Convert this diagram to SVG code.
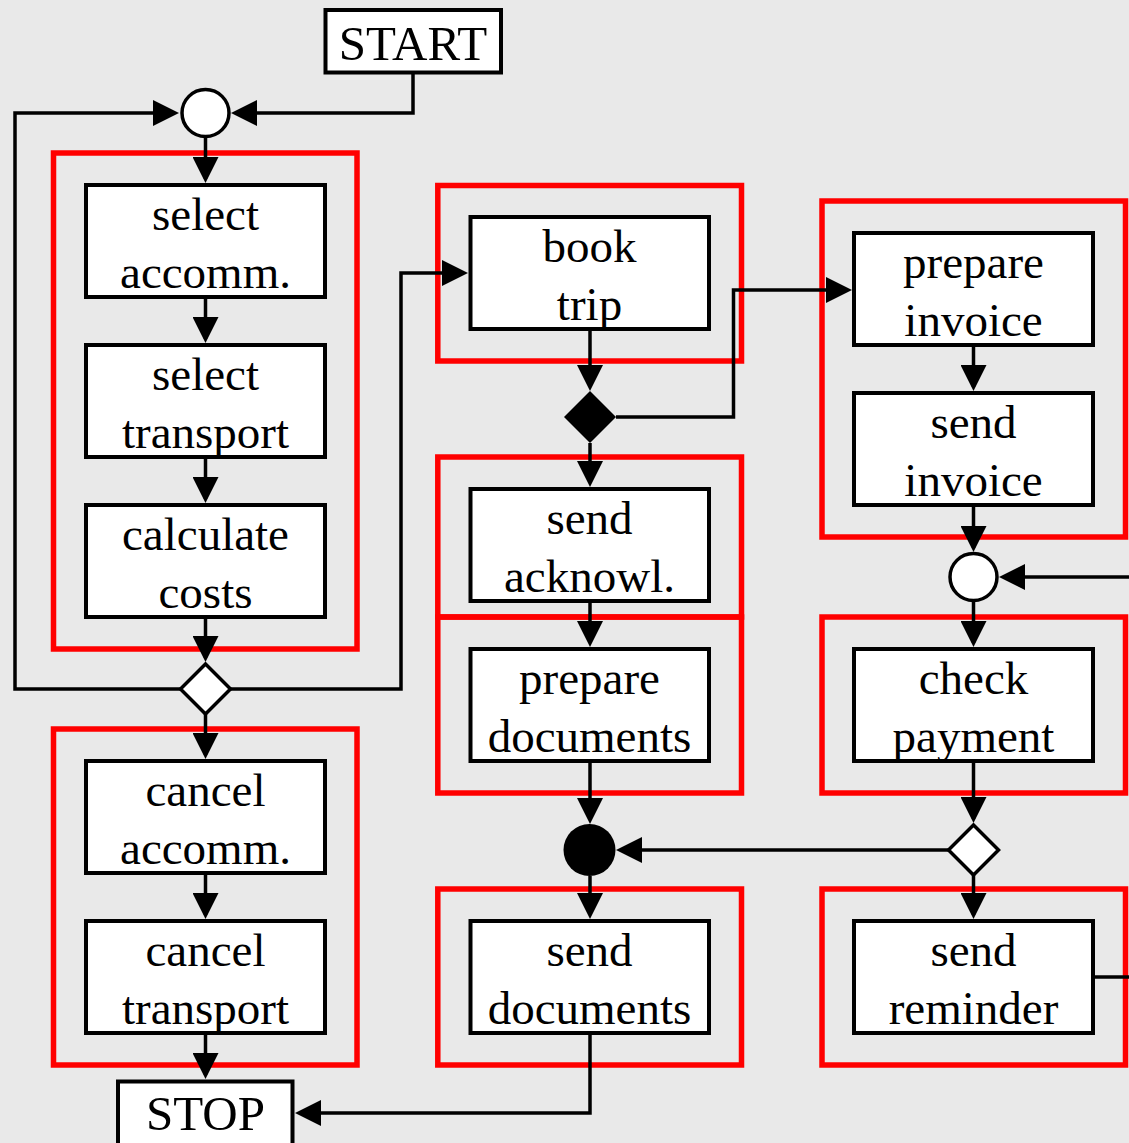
<svg xmlns="http://www.w3.org/2000/svg" width="1129" height="1143" viewBox="0 0 1129 1143">
  <style>
    .frame { fill: none; stroke: #ff0000; stroke-width: 5.5; }
    .node rect { fill: #ffffff; stroke: #000000; stroke-width: 4; }
    .label { font-family: "Liberation Serif", "Times New Roman", serif; font-size: 47px; fill: #000000; text-anchor: middle; }
    .term { font-family: "Liberation Serif", "Times New Roman", serif; font-size: 49px; fill: #000000; text-anchor: middle; }
    .edge { fill: none; stroke: #000000; stroke-width: 3.5; marker-end: url(#arrow); }
    .plain { fill: none; stroke: #000000; stroke-width: 3.5; }
    .open { fill: #ffffff; stroke: #000000; stroke-width: 3.5; }
    .solid { fill: #000000; stroke: none; }
  </style>
  <defs>
    <marker id="arrow" markerUnits="userSpaceOnUse" viewBox="0 0 26 26" markerWidth="26" markerHeight="26" refX="22" refY="13" orient="auto">
      <path d="M0,0 L26,13 L0,26 Z" fill="#000000"/>
    </marker>
  </defs>

  <rect x="0" y="0" width="1129" height="1143" fill="#e9e9e9"/>

  <!-- swimlane-style frames -->
  <g id="frames">
    <rect class="frame" x="53.5" y="153" width="303.5" height="496"/>
    <rect class="frame" x="53.5" y="729" width="303.5" height="336"/>
    <rect class="frame" x="437.8" y="185.5" width="303.7" height="175.5"/>
    <rect class="frame" x="437.8" y="457" width="303.7" height="160"/>
    <rect class="frame" x="437.8" y="617" width="303.7" height="176"/>
    <rect class="frame" x="437.8" y="889" width="303.7" height="176"/>
    <rect class="frame" x="822" y="201" width="303.5" height="336"/>
    <rect class="frame" x="822" y="617" width="303.5" height="176"/>
    <rect class="frame" x="822" y="889" width="303.5" height="176"/>
  </g>

  <!-- connectors -->
  <g id="connectors">
    <path class="edge" d="M413,73 V113 H235"/>
    <path class="edge" d="M181,689 H15 V113 H175"/>
    <path class="edge" d="M205.5,137 V179"/>
    <path class="edge" d="M205.5,297 V339"/>
    <path class="edge" d="M205.5,457 V499"/>
    <path class="edge" d="M205.5,617 V658"/>
    <path class="edge" d="M229,689 H401 V273 H464"/>
    <path class="edge" d="M205.5,713 V755"/>
    <path class="edge" d="M205.5,873 V915"/>
    <path class="edge" d="M205.5,1033 V1075"/>
    <path class="edge" d="M590,329 V387"/>
    <path class="edge" d="M616,417 H733.5 V290 H848"/>
    <path class="edge" d="M590,443 V483"/>
    <path class="edge" d="M590,601 V643"/>
    <path class="edge" d="M590,761 V820"/>
    <path class="edge" d="M590,876 V915"/>
    <path class="edge" d="M590,1033 V1113 H299"/>
    <path class="edge" d="M973.5,345 V387"/>
    <path class="edge" d="M973.5,505 V548"/>
    <path class="edge" d="M1129,577 H1003"/>
    <path class="edge" d="M973.5,601 V643"/>
    <path class="edge" d="M973.5,761 V819"/>
    <path class="edge" d="M948,850 H620"/>
    <path class="edge" d="M973.5,875 V915"/>
    <path class="plain" d="M1093,977 H1129"/>
  </g>

  <!-- control nodes -->
  <g id="merge-top"><circle class="open" cx="205.5" cy="113" r="23.5"/></g>
  <g id="decision-plan"><polygon class="open" points="205.5,664 230.5,689 205.5,714 180.5,689"/></g>
  <g id="fork-booking"><polygon class="solid" points="590,391 616,417 590,443 564,417"/></g>
  <g id="join-documents"><circle class="solid" cx="589.5" cy="850" r="26"/></g>
  <g id="merge-payment"><circle class="open" cx="973.5" cy="577" r="23.5"/></g>
  <g id="decision-payment"><polygon class="open" points="973.5,825 998.5,850 973.5,875 948.5,850"/></g>

  <!-- terminals -->
  <g id="start" class="node">
    <rect x="325.5" y="10" width="175.5" height="62.5"/>
    <text class="term" x="413" y="60">START</text>
  </g>
  <g id="stop" class="node">
    <rect x="118" y="1081.5" width="174.5" height="70"/>
    <text class="term" x="205.5" y="1130">STOP</text>
  </g>

  <!-- activities -->
  <g id="select-accomm" class="node">
    <rect x="86" y="185" width="239" height="112"/>
    <text class="label" x="205.5" y="230">select</text>
    <text class="label" x="205.5" y="288">accomm.</text>
  </g>
  <g id="select-transport" class="node">
    <rect x="86" y="345" width="239" height="112"/>
    <text class="label" x="205.5" y="390">select</text>
    <text class="label" x="205.5" y="448">transport</text>
  </g>
  <g id="calculate-costs" class="node">
    <rect x="86" y="505" width="239" height="112"/>
    <text class="label" x="205.5" y="550">calculate</text>
    <text class="label" x="205.5" y="608">costs</text>
  </g>
  <g id="cancel-accomm" class="node">
    <rect x="86" y="761" width="239" height="112"/>
    <text class="label" x="205.5" y="806">cancel</text>
    <text class="label" x="205.5" y="864">accomm.</text>
  </g>
  <g id="cancel-transport" class="node">
    <rect x="86" y="921" width="239" height="112"/>
    <text class="label" x="205.5" y="966">cancel</text>
    <text class="label" x="205.5" y="1024">transport</text>
  </g>
  <g id="book-trip" class="node">
    <rect x="470.5" y="217" width="238.5" height="112"/>
    <text class="label" x="589.5" y="262">book</text>
    <text class="label" x="589.5" y="320">trip</text>
  </g>
  <g id="send-acknowl" class="node">
    <rect x="470.5" y="489" width="238.5" height="112"/>
    <text class="label" x="589.5" y="534">send</text>
    <text class="label" x="589.5" y="592">acknowl.</text>
  </g>
  <g id="prepare-documents" class="node">
    <rect x="470.5" y="649" width="238.5" height="112"/>
    <text class="label" x="589.5" y="694">prepare</text>
    <text class="label" x="589.5" y="752">documents</text>
  </g>
  <g id="send-documents" class="node">
    <rect x="470.5" y="921" width="238.5" height="112"/>
    <text class="label" x="589.5" y="966">send</text>
    <text class="label" x="589.5" y="1024">documents</text>
  </g>
  <g id="prepare-invoice" class="node">
    <rect x="854" y="233" width="239" height="112"/>
    <text class="label" x="973.5" y="278">prepare</text>
    <text class="label" x="973.5" y="336">invoice</text>
  </g>
  <g id="send-invoice" class="node">
    <rect x="854" y="393" width="239" height="112"/>
    <text class="label" x="973.5" y="438">send</text>
    <text class="label" x="973.5" y="496">invoice</text>
  </g>
  <g id="check-payment" class="node">
    <rect x="854" y="649" width="239" height="112"/>
    <text class="label" x="973.5" y="694">check</text>
    <text class="label" x="973.5" y="752">payment</text>
  </g>
  <g id="send-reminder" class="node">
    <rect x="854" y="921" width="239" height="112"/>
    <text class="label" x="973.5" y="966">send</text>
    <text class="label" x="973.5" y="1024">reminder</text>
  </g>
</svg>
